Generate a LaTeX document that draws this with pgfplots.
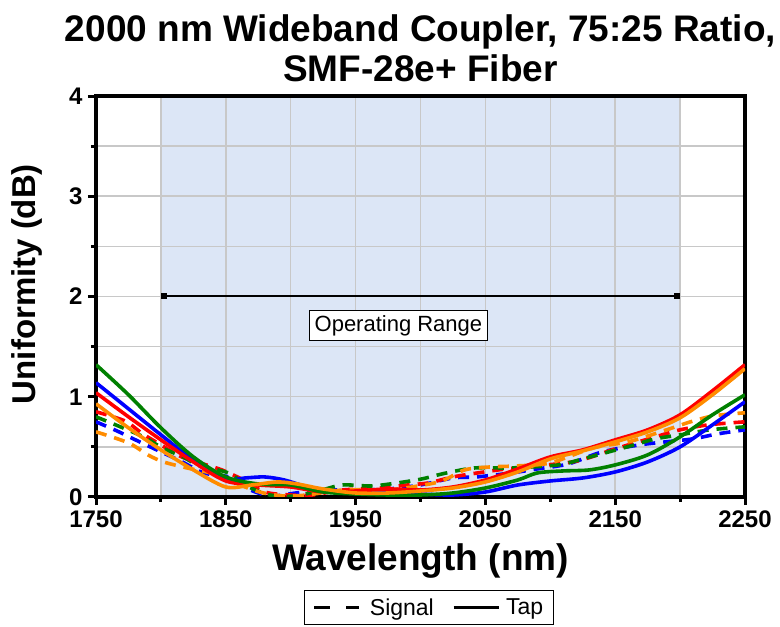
\documentclass[border=0pt]{standalone}
\usepackage{pgfplots}
\pgfplotsset{compat=1.18}
\usepackage{fontspec}
\setmainfont{Liberation Sans}
\usetikzlibrary{arrows.meta}
\definecolor{shade}{RGB}{220,230,246}
\definecolor{gridc}{RGB}{200,200,200}
\definecolor{cblue}{RGB}{0,0,255}
\definecolor{cred}{RGB}{255,0,0}
\definecolor{cgreen}{RGB}{0,128,0}
\definecolor{corange}{RGB}{255,140,0}
\begin{document}
\begin{tikzpicture}
\begin{axis}[
  at={(96pt,130pt)}, anchor=south west,
  width=649pt, height=401pt, scale only axis,
  set layers,
  xmin=1750, xmax=2250, ymin=0, ymax=4,
  xtick={1750,1850,...,2250}, minor xtick={1800,1900,...,2200},
  ytick={0,1,2,3,4}, minor ytick={0.5,1.5,2.5,3.5},
  grid=both,
  major grid style={gridc, line width=1.5pt},
  minor grid style={gridc, line width=1.5pt},
  tick align=outside,
  major tick length=8pt, minor tick length=5pt,
  tick style={black, line width=3pt},
  axis line style={black, line width=4pt},
  xtick pos=bottom, ytick pos=left,
  /pgf/number format/assume math mode=true,
  /pgf/number format/1000 sep={},
  ticklabel style={font=\fontsize{24}{28}\selectfont\bfseries},
  xticklabel style={yshift=-2pt},
  yticklabel style={xshift=-2pt},
  xlabel={Wavelength (nm)},
  ylabel={Uniformity (dB)},
  xlabel style={at={(0.5,-0.16)}, anchor=center, font=\fontsize{37}{42}\selectfont\bfseries},
  ylabel style={at={(-0.106,0.531)}, anchor=center, font=\fontsize{33}{38}\selectfont\bfseries},
  title={2000 nm Wideband Coupler, 75:25 Ratio,\\SMF-28e+ Fiber},
  title style={at={(0.5,1.105)}, anchor=center, align=center, font=\fontsize{37}{40}\selectfont\bfseries},
  legend style={at={(0.513,-0.232)}, anchor=north, legend columns=2, draw=black, line width=1pt,
    font=\fontsize{23}{26}\selectfont, inner ysep=6pt, inner xsep=8pt,
    /tikz/every even column/.append style={column sep=16pt}},
  legend cell align=left,
]
% shaded operating range
\addplot[draw=none, fill=shade, on layer=axis background, forget plot] coordinates {(1800,4) (2200,4)} \closedcycle;

\addlegendimage{legend image code/.code={\draw[black, line width=3.5pt, dash pattern=on 16pt off 16pt] (0pt,0pt) -- (45pt,0pt); \path (53pt,0pt);}}
\addlegendentry{Signal}
\addlegendimage{legend image code/.code={\draw[black, line width=3.5pt] (0pt,0pt) -- (45pt,0pt); \path (50pt,0pt);}}
\addlegendentry{Tap}

% Signal (dashed)
\addplot[cblue, line width=3.6pt, smooth, tension=0.5, dash pattern=on 11pt off 8pt, forget plot] coordinates {
(1750,0.75) (1766,0.66) (1782,0.56) (1800,0.45) (1815,0.36) (1833,0.24) (1852,0.20) (1869,0.07) (1885,0.01) (1904,0.04) (1925,0.07) (1950,0.07) (1975,0.08) (2000,0.12) (2025,0.19) (2043,0.20) (2070,0.24) (2090,0.28) (2114,0.33) (2140,0.45) (2169,0.52) (2189,0.55) (2210,0.58) (2229,0.63) (2250,0.67)};
\addplot[cred, line width=3.6pt, smooth, tension=0.5, dash pattern=on 11pt off 8pt, forget plot] coordinates {
(1750,0.85) (1772,0.76) (1786,0.63) (1800,0.52) (1816,0.40) (1830,0.34) (1847,0.27) (1862,0.18) (1880,0.05) (1900,0.02) (1917,0.02) (1940,0.07) (1970,0.09) (1990,0.12) (2006,0.14) (2025,0.20) (2044,0.24) (2066,0.28) (2090,0.31) (2121,0.36) (2150,0.48) (2181,0.60) (2200,0.67) (2222,0.72) (2250,0.75)};
\addplot[cgreen, line width=3.6pt, smooth, tension=0.5, dash pattern=on 11pt off 8pt, forget plot] coordinates {
(1750,0.80) (1785,0.61) (1801,0.49) (1817,0.40) (1830,0.31) (1852,0.24) (1868,0.10) (1884,0.02) (1903,0.01) (1924,0.07) (1940,0.12) (1962,0.11) (1982,0.14) (2001,0.18) (2020,0.24) (2042,0.29) (2070,0.29) (2106,0.32) (2125,0.38) (2162,0.51) (2181,0.58) (2200,0.62) (2223,0.67) (2250,0.70)};
\addplot[corange, line width=3.6pt, smooth, tension=0.5, dash pattern=on 11pt off 8pt, forget plot] coordinates {
(1750,0.65) (1775,0.54) (1790,0.42) (1802,0.35) (1820,0.29) (1838,0.24) (1855,0.15) (1876,0.05) (1895,0.01) (1912,0.02) (1940,0.07) (1963,0.07) (1977,0.07) (2014,0.15) (2034,0.27) (2054,0.30) (2074,0.31) (2100,0.34) (2133,0.49) (2160,0.55) (2185,0.65) (2208,0.75) (2226,0.81) (2250,0.84)};

% Tap (solid)
\addplot[cblue, line width=3.6pt, smooth, tension=0.5, forget plot] coordinates {
(1750,1.14) (1775,0.88) (1800,0.62) (1825,0.37) (1850,0.18) (1865,0.19) (1880,0.20) (1895,0.17) (1910,0.11) (1925,0.06) (1950,0.04) (1975,0.05) (2000,0.03) (2025,0.02) (2050,0.05) (2075,0.12) (2100,0.16) (2125,0.19) (2150,0.25) (2175,0.35) (2200,0.50) (2225,0.72) (2250,0.95)};
\addplot[cred, line width=3.6pt, smooth, tension=0.5, forget plot] coordinates {
(1750,1.04) (1775,0.80) (1800,0.57) (1825,0.35) (1850,0.16) (1875,0.12) (1900,0.10) (1925,0.05) (1950,0.06) (1975,0.08) (2000,0.07) (2025,0.10) (2050,0.17) (2075,0.28) (2100,0.40) (2125,0.47) (2150,0.57) (2175,0.67) (2200,0.82) (2225,1.06) (2250,1.32)};
\addplot[cgreen, line width=3.6pt, smooth, tension=0.5, forget plot] coordinates {
(1750,1.32) (1775,1.02) (1800,0.69) (1825,0.40) (1850,0.20) (1875,0.13) (1900,0.12) (1925,0.05) (1950,0.03) (1975,0.02) (2000,0.02) (2025,0.04) (2050,0.09) (2075,0.17) (2090,0.24) (2110,0.26) (2130,0.27) (2150,0.32) (2175,0.42) (2200,0.60) (2225,0.82) (2250,1.02)};
\addplot[corange, line width=3.6pt, smooth, tension=0.5, forget plot] coordinates {
(1750,0.93) (1775,0.69) (1800,0.47) (1825,0.27) (1850,0.10) (1870,0.12) (1890,0.15) (1905,0.13) (1925,0.08) (1950,0.04) (1975,0.04) (2000,0.06) (2025,0.09) (2050,0.15) (2075,0.25) (2100,0.38) (2125,0.46) (2150,0.55) (2175,0.65) (2200,0.79) (2225,1.02) (2250,1.28)};

% operating range arrow
\addplot[black, line width=2pt, arrows={Square[length=6pt,width=6pt]-Square[length=6pt,width=6pt]}, forget plot] coordinates {(1800,2) (2200,2)};
\node[draw=black, fill=white, line width=1pt, font=\fontsize{22}{25}\selectfont, inner xsep=5pt, inner ysep=5pt] at (axis cs:1983,1.71) {Operating Range};
\end{axis}
\useasboundingbox (0,0) rectangle (780pt,627pt);
\end{tikzpicture}
\end{document}
